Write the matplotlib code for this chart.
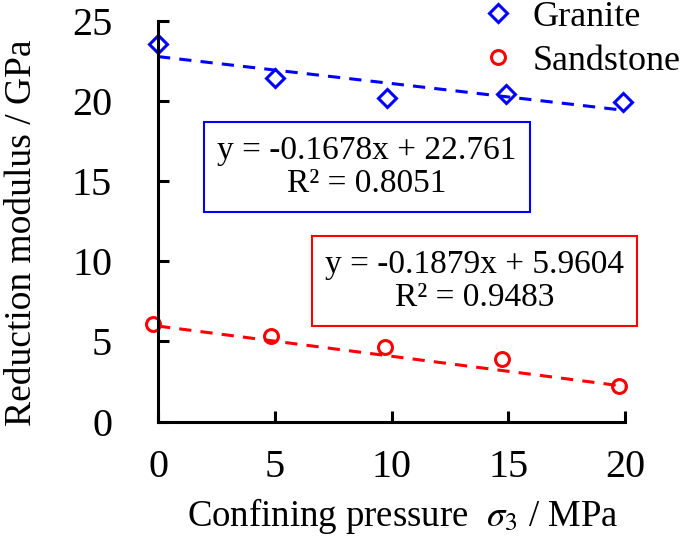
import numpy as np
import matplotlib
matplotlib.use("Agg")
import matplotlib.pyplot as plt

plt.rcParams['font.family'] = ['Liberation Serif', 'DejaVu Serif']
plt.rcParams['mathtext.fontset'] = 'stix'

# measured points
granite_x = [0.0, 5.0, 9.8, 14.9, 19.9]
granite_y = [23.55, 21.4, 20.15, 20.45, 19.95]
sand_x = [-0.2, 4.85, 9.7, 14.75, 19.75]
sand_y = [6.1, 5.35, 4.65, 3.9, 2.2]

# fitted lines (from the labels)
granite_fit = (-0.1678, 22.761)
sand_fit = (-0.1879, 5.9604)
granite_text = "y = -0.1678x + 22.761\nR² = 0.8051"
sand_text = "y = -0.1879x + 5.9604\nR² = 0.9483"

xticks = [0, 5, 10, 15, 20]
yticks = [0, 5, 10, 15, 20, 25]

fig = plt.figure(figsize=(6.85, 5.37), dpi=100)
ax = fig.add_axes([0.2307, 0.2147, 0.9124 - 0.2307, 0.9615 - 0.2147])

xx = np.array([0, 20])
ax.plot(xx, granite_fit[0] * xx + granite_fit[1], '--', color='blue', lw=2.2, dashes=(4, 3))
ax.plot(xx, sand_fit[0] * xx + sand_fit[1], '--', color='red', lw=2.2, dashes=(4, 3))

ax.plot(granite_x, granite_y, 'D', ms=9.5, mfc='none', mec='blue', mew=2.2,
        ls='none', label='Granite', clip_on=False)
ax.plot(sand_x, sand_y, 'o', ms=10, mfc='none', mec='red', mew=2.2,
        ls='none', label='Sandstone', clip_on=False)

ax.set_xlim(0, 20)
ax.set_ylim(0, 25)
ax.set_xticks(xticks)
ax.set_yticks(yticks)
for s in ['top', 'right']:
    ax.spines[s].set_visible(False)
for s in ['left', 'bottom']:
    ax.spines[s].set_linewidth(2.2)
ax.tick_params(direction='in', length=8, width=2.2, labelsize=29)
ax.tick_params(axis='y', pad=33)
ax.tick_params(axis='x', pad=20)

ax.set_xlabel(r"Confining pressure  $\sigma_3$ / MPa", fontsize=26.5)
ax.set_ylabel("Reduction modulus / GPa", fontsize=27)
ax.xaxis.set_label_coords(0.523, -0.185)
ax.yaxis.set_label_coords(-0.255, 0.472)

ax.text(8.93, 15.88, granite_text, ha='center', va='center', fontsize=24,
        linespacing=1.1,
        bbox=dict(boxstyle='square,pad=0.4', fc='white', ec='blue', lw=1.5))
ax.text(13.55, 8.77, sand_text, ha='center', va='center', fontsize=24,
        linespacing=1.1, clip_on=False,
        bbox=dict(boxstyle='square,pad=0.4', fc='white', ec='red', lw=1.5))

ax.legend(loc='upper left', bbox_to_anchor=(0.643, 1.095), frameon=False,
          fontsize=26, handletextpad=0.35, labelspacing=0.3, handlelength=1.2,
          borderpad=0)

fig.savefig("out.png", dpi=100)
